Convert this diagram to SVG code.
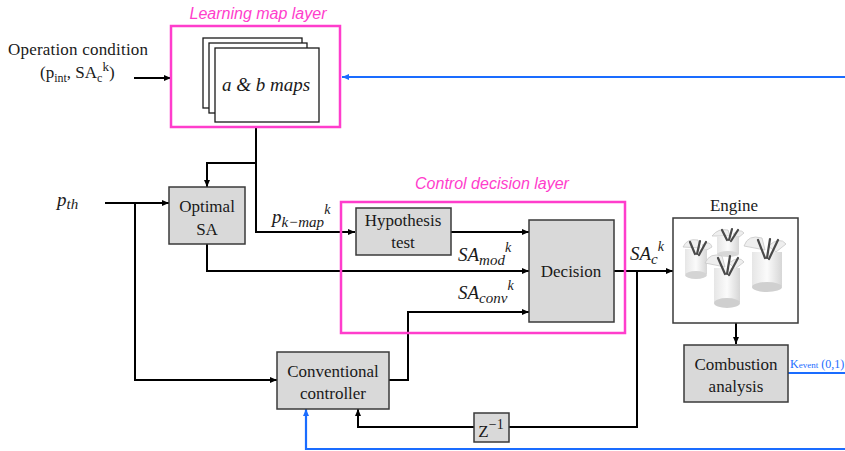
<svg xmlns="http://www.w3.org/2000/svg" width="845" height="451" viewBox="0 0 845 451">
  <style>
    .txt { font-family: "Liberation Serif", "DejaVu Serif", serif; font-size: 17px; fill: #1a1a1a; }
    .math { font-family: "Liberation Serif", "DejaVu Serif", serif; font-style: italic; font-size: 19px; fill: #1a1a1a; }
    .sub { font-size: 15px; }
    .sup { font-size: 14px; }
    .layer-label { font-family: "Liberation Sans", "Open Sans", sans-serif; font-style: italic; font-size: 16px; fill: #ff3dcc; }
    .layer { fill: none; stroke: #ff3dcc; stroke-width: 2.5; }
    .block { fill: #d9d9d9; stroke: #3a3a3a; stroke-width: 1.5; }
    .map { fill: #ffffff; stroke: #1a1a1a; stroke-width: 1.3; }
    .wire { fill: none; stroke: #000; stroke-width: 2; }
    .wire-blue { fill: none; stroke: #1a6cff; stroke-width: 2.2; }
    .blue-txt { font-family: "Liberation Serif", "DejaVu Serif", serif; font-size: 12px; fill: #1a6cff; }
    .valve { stroke: #4a4a4a; stroke-width: 2.2; stroke-linecap: round; fill: none; }
    .port { fill: #eeeeee; stroke: #c8c8c8; stroke-width: 0.8; }
  </style>
  <defs>
    <marker id="arrow" markerWidth="8" markerHeight="8" refX="7" refY="4" orient="auto" markerUnits="userSpaceOnUse">
      <path d="M0,1 L7,4 L0,7 Z" fill="#000"/>
    </marker>
    <marker id="arrow-blue" markerWidth="8" markerHeight="8" refX="7" refY="4" orient="auto" markerUnits="userSpaceOnUse">
      <path d="M0,1 L7,4 L0,7 Z" fill="#1a6cff"/>
    </marker>
    <linearGradient id="cyl" x1="0" y1="0" x2="1" y2="0">
      <stop offset="0" stop-color="#e6e6e6"/>
      <stop offset="0.5" stop-color="#fbfbfb"/>
      <stop offset="1" stop-color="#d6d6d6"/>
    </linearGradient>
  </defs>

  <!-- connectors -->
  <g id="connectors">
    <!-- operating condition into the map layer -->
    <line class="wire" x1="134" y1="78" x2="171" y2="78" marker-end="url(#arrow)"/>
    <!-- map output: to optimal SA and to hypothesis test -->
    <polyline class="wire" points="256,127 256,232 355,232" marker-end="url(#arrow)"/>
    <polyline class="wire" points="256,163 207,163 207,187" marker-end="url(#arrow)"/>
    <!-- throttle pressure -->
    <line class="wire" x1="105" y1="203" x2="169" y2="203" marker-end="url(#arrow)"/>
    <polyline class="wire" points="135,203 135,380 277,380" marker-end="url(#arrow)"/>
    <!-- optimal SA to decision -->
    <polyline class="wire" points="207,244 207,271 529,271" marker-end="url(#arrow)"/>
    <!-- hypothesis test to decision -->
    <line class="wire" x1="451" y1="232" x2="529" y2="232" marker-end="url(#arrow)"/>
    <!-- conventional controller to decision -->
    <polyline class="wire" points="389,380 408,380 408,312 529,312" marker-end="url(#arrow)"/>
    <!-- decision to engine -->
    <line class="wire" x1="614" y1="271" x2="673" y2="271" marker-end="url(#arrow)"/>
    <!-- delayed feedback through Z^-1 -->
    <polyline class="wire" points="637,271 637,427 509,427"/>
    <polyline class="wire" points="474,427 358,427 358,409" marker-end="url(#arrow)"/>
    <!-- engine to combustion analysis -->
    <line class="wire" x1="736" y1="323" x2="736" y2="344" marker-end="url(#arrow)"/>
    <!-- knock event feedback (blue) -->
    <line class="wire-blue" x1="845" y1="77" x2="342" y2="77" marker-end="url(#arrow-blue)"/>
    <line class="wire-blue" x1="788" y1="373" x2="845" y2="373"/>
    <polyline class="wire-blue" points="845,449 306,449 306,409" marker-end="url(#arrow-blue)"/>
  </g>

  <!-- operating condition text -->
  <g id="operation-condition">
    <text class="txt" x="8" y="55" textLength="140">Operation condition</text>
    <text class="txt" x="40" y="78">(p<tspan font-size="12" dy="4">int</tspan><tspan dy="-4">, SA</tspan><tspan font-size="12" dy="4">c</tspan><tspan font-size="13" dy="-11">k</tspan><tspan dy="7">)</tspan></text>
  </g>

  <!-- learning map layer -->
  <g id="learning-map-layer">
    <text class="layer-label" x="258" y="19" text-anchor="middle">Learning map layer</text>
    <rect class="layer" x="171" y="26" width="169" height="101"/>
    <rect class="map" x="203" y="38" width="99" height="70"/>
    <rect class="map" x="209" y="43" width="98" height="70"/>
    <rect class="map" x="215" y="48" width="104" height="74"/>
    <text class="math" x="266" y="91" text-anchor="middle">a &amp; b maps</text>
  </g>

  <!-- throttle pressure label -->
  <g id="p-th">
    <text class="math" x="57" y="206" font-size="21">p<tspan class="sub" dy="3">th</tspan></text>
  </g>

  <!-- optimal SA -->
  <g id="optimal-sa">
    <rect class="block" x="169" y="187" width="76" height="57"/>
    <text class="txt" x="207" y="212" text-anchor="middle">Optimal</text>
    <text class="txt" x="207" y="235" text-anchor="middle">SA</text>
  </g>

  <!-- signal labels -->
  <g id="signal-labels">
    <text class="math" x="272" y="223">p<tspan class="sub" dy="4">k−map</tspan><tspan class="sup" dy="-13">k</tspan></text>
    <text class="math" x="458" y="261">SA<tspan class="sub" dy="4">mod</tspan><tspan class="sup" dy="-13">k</tspan></text>
    <text class="math" x="458" y="299">SA<tspan class="sub" dy="4">conv</tspan><tspan class="sup" dy="-13">k</tspan></text>
    <text class="math" x="630" y="260">SA<tspan class="sub" dy="4">c</tspan><tspan class="sup" dy="-13">k</tspan></text>
  </g>

  <!-- control decision layer -->
  <g id="control-decision-layer">
    <text class="layer-label" x="492" y="189" text-anchor="middle">Control decision layer</text>
    <rect class="layer" x="341" y="202" width="284" height="131"/>
  </g>

  <g id="hypothesis-test">
    <rect class="block" x="356" y="208" width="95" height="47"/>
    <text class="txt" x="403" y="226" text-anchor="middle">Hypothesis</text>
    <text class="txt" x="403" y="248" text-anchor="middle">test</text>
  </g>

  <g id="decision">
    <rect class="block" x="529" y="220" width="85" height="102"/>
    <text class="txt" x="571" y="277" text-anchor="middle">Decision</text>
  </g>

  <g id="conventional-controller">
    <rect class="block" x="277" y="352" width="112" height="57"/>
    <text class="txt" x="333" y="377" text-anchor="middle">Conventional</text>
    <text class="txt" x="333" y="399" text-anchor="middle">controller</text>
  </g>

  <g id="unit-delay">
    <rect class="block" x="474" y="413" width="35" height="29"/>
    <text class="txt" x="491" y="437" text-anchor="middle" font-size="19">Z<tspan font-size="14" dy="-8">−1</tspan></text>
  </g>

  <!-- engine with four cylinders -->
  <g id="engine">
    <text class="txt" x="734" y="211" text-anchor="middle">Engine</text>
    <rect x="673" y="218" width="125" height="105" fill="#fff" stroke="#3a3a3a" stroke-width="1.5"/>
    <!-- rear cylinder (top centre) -->
    <g>
      <path class="port" d="M712,236 Q718,228 728,230 L730,236 Z"/>
      <path class="port" d="M733,234 Q740,228 744,233 L738,238 Z"/>
      <rect x="717" y="236" width="22" height="18" fill="url(#cyl)"/>
      <ellipse cx="728" cy="254" rx="11" ry="3" fill="#d8d8d8"/>
      <line class="valve" x1="722" y1="230" x2="727" y2="240"/>
      <line class="valve" x1="732" y1="229" x2="729" y2="240"/>
      <line class="valve" x1="738" y1="230" x2="731" y2="241"/>
    </g>
    <!-- left cylinder -->
    <g>
      <path class="port" d="M683,247 Q687,238 698,240 L700,248 Z"/>
      <path class="port" d="M702,245 Q710,240 712,247 L705,251 Z"/>
      <rect x="685" y="249" width="22" height="25" fill="url(#cyl)"/>
      <ellipse cx="696" cy="275" rx="11" ry="4" fill="#d4d4d4"/>
      <line class="valve" x1="690" y1="242" x2="695" y2="254"/>
      <line class="valve" x1="700" y1="241" x2="697" y2="254"/>
      <line class="valve" x1="706" y1="242" x2="699" y2="255"/>
    </g>
    <!-- right cylinder -->
    <g>
      <path class="port" d="M744,246 Q748,234 762,238 L765,250 Z"/>
      <path class="port" d="M768,246 Q780,236 786,244 L776,252 Z"/>
      <rect x="752" y="252" width="30" height="34" fill="url(#cyl)"/>
      <ellipse cx="767" cy="287" rx="15" ry="5" fill="#d0d0d0"/>
      <line class="valve" x1="758" y1="240" x2="765" y2="258"/>
      <line class="valve" x1="770" y1="239" x2="767" y2="258"/>
      <line class="valve" x1="778" y1="240" x2="769" y2="259"/>
    </g>
    <!-- front cylinder (centre) -->
    <g>
      <path class="port" d="M705,263 Q710,252 722,256 L725,267 Z"/>
      <path class="port" d="M729,263 Q739,255 744,262 L735,269 Z"/>
      <rect x="714" y="268" width="26" height="34" fill="url(#cyl)"/>
      <ellipse cx="727" cy="303" rx="13" ry="5" fill="#cfcfcf"/>
      <line class="valve" x1="718" y1="258" x2="725" y2="274"/>
      <line class="valve" x1="730" y1="256" x2="727" y2="274"/>
      <line class="valve" x1="738" y1="258" x2="729" y2="275"/>
    </g>
  </g>

  <g id="combustion-analysis">
    <rect class="block" x="684" y="345" width="104" height="57"/>
    <text class="txt" x="736" y="370" text-anchor="middle">Combustion</text>
    <text class="txt" x="736" y="392" text-anchor="middle">analysis</text>
  </g>

  <!-- knock event signal label -->
  <g id="k-event">
    <text class="blue-txt" x="790" y="368">K<tspan font-size="9">event</tspan> (0,1)</text>
  </g>
</svg>
